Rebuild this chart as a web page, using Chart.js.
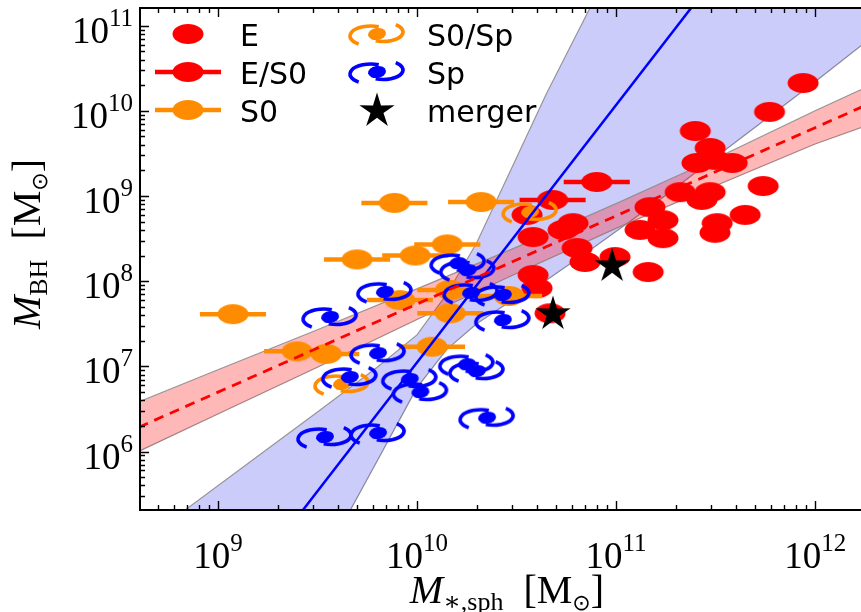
<!DOCTYPE html>
<html>
<head>
<meta charset="utf-8">
<script src="https://cdn.jsdelivr.net/npm/chart.js@4.4.1/dist/chart.umd.min.js"></script>
<style>
  html, body { margin: 0; padding: 0; background: #fff; }
  #wrap { width: 861px; height: 612px; }
</style>
</head>
<body>
<div id="wrap"><canvas id="bh-chart" width="861" height="612"></canvas></div>
<script>
// ---- data (M_*,sph and M_BH in solar masses) ----
const eMass = [8.7e11, 5.9e11, 2.5e11, 2.97e11, 2.55e11, 3.14e11, 3.83e11, 5.48e11, 2.1e11, 2.97e11,
               2.7e11, 1.48e11, 4.45e11, 3.22e11, 3.14e11, 1.72e11, 1.32e11, 1.72e11, 6.08e10, 5.42e10,
               3.83e10, 6.37e10, 6.98e10, 9.88e10, 1.45e11, 3.83e10, 4.01e10, 4.66e10, 3.57e10];
const eBH   = [2.12e10, 9.7e9, 5.8e9, 3.66e9, 2.44e9, 2.65e9, 2.44e9, 1.31e9, 1.11e9, 1.11e9,
               9.0e8, 7.4e8, 6.0e8, 4.8e8, 3.7e8, 5.2e8, 4.0e8, 3.2e8, 4.8e8, 4.0e8,
               3.3e8, 2.45e8, 1.68e8, 1.92e8, 1.28e8, 1.18e8, 8.3e7, 4.2e7, 6.0e8];

const es0Mass = [8.0e10, 4.8e10];
const es0BH   = [1.46e9, 9.0e8];

const s0Mass = [7.7e9, 2.1e10, 5.0e9, 9.8e9, 1.42e10, 1.19e9, 2.5e9, 3.5e9, 1.19e10, 8.2e9, 1.47e10, 1.47e10, 2.9e10];
const s0BH   = [8.3e8, 8.5e8, 1.8e8, 2.0e8, 2.7e8, 4.1e7, 1.5e7, 1.4e7, 1.7e7, 6.0e7, 7.9e7, 4.2e7, 6.7e7];

const s0spMass = [3.7e10, 4.2e9];
const s0spBH   = [6.5e8, 6.2e6];

const spMass = [3.66e9, 6.9e9, 1.61e10, 1.8e10, 1.87e10, 2.7e10, 2.7e10, 6.37e9, 4.6e9, 9.2e9,
                1.04e10, 1.78e10, 2.0e10, 2.25e10, 3.45e9, 6.37e9];
const spBH   = [3.8e7, 7.5e7, 1.63e8, 1.35e8, 7.3e7, 6.9e7, 3.5e7, 1.43e7, 7.5e6, 7.1e6,
                5.0e6, 1.06e7, 8.8e6, 2.5e6, 1.48e6, 1.65e6];

const mergerMass = [9.55e10, 4.82e10];
const mergerBH   = [1.55e8, 4.23e7];

// horizontal error bars (dex) on the E/S0 and S0 points
const es0ErrDex = [0.166, 0.166];
const s0ErrDex  = [0.166, 0.166, 0.166, 0.166, 0.166, 0.166, 0.166, 0.166, 0.166, 0.166, 0.166, 0.166, 0.166];

// fits (end points) and confidence bands, as log10 values
const redFitLogMass  = [8.602, 12.255];
const redFitLogBH    = [6.285, 10.066];
const blueFitLogMass = [9.176, 11.477];
const blueFitLogBH   = [4.555, 11.509];

const redBandLogMass  = [8.6, 9.0, 9.5, 10.0, 10.5, 11.0, 11.5, 12.0, 12.25];
const redBandLogUpper = [6.58, 6.96, 7.43, 7.91, 8.40, 8.91, 9.44, 10.0, 10.27];
const redBandLogLower = [6.0, 6.44, 6.99, 7.55, 8.09, 8.62, 9.12, 9.61, 9.82];

const blueBandLogMass  = [8.6, 8.834, 9.176, 9.5, 9.8, 10.0, 10.15, 10.3, 10.5, 10.65, 10.9, 11.2, 11.56, 12.0, 12.25];
const blueBandLogUpper = [4.915, 5.312, 5.905, 6.465, 6.99, 7.37, 7.85, 8.45, 9.45, 10.2, 11.35, 12.6, 14.0, 15.8, 16.9];
const blueBandLogLower = [0.715, 1.73, 3.205, 4.605, 5.89, 6.75, 7.20, 7.50, 7.81, 8.01, 8.415, 8.92, 9.56, 10.34, 10.80];

const xMin = 4.06e8, xMax = 1.70e12;
const yMin = 2.06e5, yMax = 1.61e11;

const RED = '#ff0000', ORANGE = '#ff8c00', BLUE = '#0000ff';

// ---- marker images ----
function makeCanvas(w, h) {
  const c = document.createElement('canvas');
  c.width = w; c.height = h;
  return c;
}
function ellipseIcon(color) {
  const c = makeCanvas(34, 24), g = c.getContext('2d');
  g.fillStyle = color;
  g.beginPath(); g.ellipse(17, 12, 15.5, 10, 0, 0, 2 * Math.PI); g.fill();
  return c;
}
function spiralIcon(color) {
  const c = makeCanvas(66, 40), g = c.getContext('2d');
  const cx = 33, cy = 20;
  g.strokeStyle = color; g.fillStyle = color; g.lineWidth = 3.6;
  g.beginPath(); g.ellipse(cx, cy, 9, 6, -0.15, 0, 2 * Math.PI); g.fill();
  // left arm leaves the top of the core, sweeps round the left and ends low
  g.beginPath(); g.ellipse(cx - 6, cy + 2, 21, 10, 0, 1.62 * Math.PI, 0.7 * Math.PI, true); g.stroke();
  // right arm leaves the bottom of the core, sweeps round the right and ends high
  g.beginPath(); g.ellipse(cx + 6, cy - 2, 20, 9.5, 0, 0.62 * Math.PI, -0.28 * Math.PI, true); g.stroke();
  return c;
}
function starIcon(color) {
  const c = makeCanvas(40, 40), g = c.getContext('2d');
  const R = 18.5, r = 6.8, cx = 20, cy = 21;
  g.fillStyle = color;
  g.beginPath();
  for (let k = 0; k < 10; k++) {
    const a = -Math.PI / 2 + k * Math.PI / 5, rad = k % 2 ? r : R;
    const px = cx + rad * Math.cos(a), py = cy + rad * Math.sin(a);
    k ? g.lineTo(px, py) : g.moveTo(px, py);
  }
  g.closePath(); g.fill();
  return c;
}
const eIcon = ellipseIcon(RED), s0Icon = ellipseIcon(ORANGE);
const s0spIcon = spiralIcon(ORANGE), spIcon = spiralIcon(BLUE), mergerIcon = starIcon('#000');

function pts(xs, ys) { return xs.map((v, i) => ({x: v, y: ys[i]})); }
function logPts(xs, ys) { return xs.map((v, i) => ({x: Math.pow(10, v), y: Math.pow(10, ys[i])})); }

const bandEdge = 'rgba(140,140,140,0.9)';
const datasets = [
  {label: 'redBandUp', data: logPts(redBandLogMass, redBandLogUpper), showLine: true, pointRadius: 0,
   borderColor: bandEdge, borderWidth: 1.2, backgroundColor: 'rgba(255,0,0,0.28)', fill: '+1', order: 20},
  {label: 'redBandLo', data: logPts(redBandLogMass, redBandLogLower), showLine: true, pointRadius: 0,
   borderColor: bandEdge, borderWidth: 1.2, fill: false, order: 20},
  {label: 'blueBandUp', data: logPts(blueBandLogMass, blueBandLogUpper), showLine: true, pointRadius: 0,
   borderColor: bandEdge, borderWidth: 1.2, backgroundColor: 'rgba(0,0,230,0.2)', fill: '+1', order: 21},
  {label: 'blueBandLo', data: logPts(blueBandLogMass, blueBandLogLower), showLine: true, pointRadius: 0,
   borderColor: bandEdge, borderWidth: 1.2, fill: false, order: 21},
  {label: 'E', data: pts(eMass, eBH), pointStyle: eIcon, pointRadius: 10, order: 8},
  {label: 'E/S0', data: pts(es0Mass, es0BH), pointStyle: eIcon, pointRadius: 10, order: 7,
   xErrDex: es0ErrDex, errColor: RED},
  {label: 'S0', data: pts(s0Mass, s0BH), pointStyle: s0Icon, pointRadius: 10, order: 6,
   xErrDex: s0ErrDex, errColor: ORANGE},
  {label: 'S0/Sp', data: pts(s0spMass, s0spBH), pointStyle: s0spIcon, pointRadius: 10, order: 5},
  {label: 'Sp', data: pts(spMass, spBH), pointStyle: spIcon, pointRadius: 10, order: 4},
  {label: 'merger', data: pts(mergerMass, mergerBH), pointStyle: mergerIcon, pointRadius: 10, order: 3},
  {label: 'redFit', data: logPts(redFitLogMass, redFitLogBH), showLine: true, pointRadius: 0,
   borderColor: RED, borderWidth: 2.8, borderDash: [10, 7], fill: false, order: 1},
  {label: 'blueFit', data: logPts(blueFitLogMass, blueFitLogBH), showLine: true, pointRadius: 0,
   borderColor: BLUE, borderWidth: 2.5, fill: false, order: 1}
];

// ---- error bars, drawn just under their own markers ----
const errorBars = {
  id: 'errorBars',
  beforeDatasetDraw(chart, args) {
    const ds = chart.data.datasets[args.index];
    if (!ds.xErrDex) return;
    const ctx = chart.ctx, xs = chart.scales.x, a = chart.chartArea;
    ctx.save();
    ctx.beginPath(); ctx.rect(a.left, a.top, a.right - a.left, a.bottom - a.top); ctx.clip();
    ctx.strokeStyle = ds.errColor; ctx.lineWidth = 4.5;
    args.meta.data.forEach((p, i) => {
      const f = Math.pow(10, ds.xErrDex[i]);
      ctx.beginPath();
      ctx.moveTo(xs.getPixelForValue(ds.data[i].x / f), p.y);
      ctx.lineTo(xs.getPixelForValue(ds.data[i].x * f), p.y);
      ctx.stroke();
    });
    ctx.restore();
  }
};

// ---- text helpers ----
const SERIF = '"Liberation Serif", "DejaVu Serif", serif';
function drawRuns(ctx, runs, x, y) {
  // runs: [{t, font, dy}] laid out left to right, centred on x, baseline y
  let w = 0;
  runs.forEach(r => { ctx.font = r.font; r.w = ctx.measureText(r.t).width; w += r.w; });
  let cx = x - w / 2;
  runs.forEach(r => { ctx.font = r.font; ctx.fillText(r.t, cx, y + (r.dy || 0)); cx += r.w; });
}
function powerRuns(e) {
  return [{t: '10', font: '37px ' + SERIF, dy: 0}, {t: String(e), font: '25px ' + SERIF, dy: -17}];
}

// ---- inward ticks, spines, tick labels and axis titles ----
const axisDecor = {
  id: 'axisDecor',
  afterDatasetsDraw(chart) {
    const {ctx, chartArea: a, scales: {x, y}} = chart;
    ctx.save();
    ctx.strokeStyle = '#000'; ctx.fillStyle = '#000';
    ctx.lineWidth = 1.4;
    ctx.beginPath();
    for (let e = Math.floor(Math.log10(x.min)); e <= Math.ceil(Math.log10(x.max)); e++) {
      for (let m = 1; m <= 9; m++) {
        const v = m * Math.pow(10, e);
        if (v < x.min || v > x.max) continue;
        const px = Math.round(x.getPixelForValue(v)) + 0.5, len = m === 1 ? 9 : 5;
        ctx.moveTo(px, a.bottom); ctx.lineTo(px, a.bottom - len);
        ctx.moveTo(px, a.top); ctx.lineTo(px, a.top + len);
      }
    }
    for (let e = Math.floor(Math.log10(y.min)); e <= Math.ceil(Math.log10(y.max)); e++) {
      for (let m = 1; m <= 9; m++) {
        const v = m * Math.pow(10, e);
        if (v < y.min || v > y.max) continue;
        const py = Math.round(y.getPixelForValue(v)) + 0.5, len = m === 1 ? 9 : 5;
        ctx.moveTo(a.left, py); ctx.lineTo(a.left + len, py);
      }
    }
    ctx.stroke();

    ctx.lineWidth = 2;
    ctx.beginPath();
    ctx.moveTo(a.right + 2, a.top); ctx.lineTo(a.left, a.top);
    ctx.lineTo(a.left, a.bottom); ctx.lineTo(a.right + 2, a.bottom);
    ctx.stroke();

    ctx.textAlign = 'left'; ctx.textBaseline = 'alphabetic';
    for (let e = 9; e <= 12; e++) {
      drawRuns(ctx, powerRuns(e), x.getPixelForValue(Math.pow(10, e)), 568);
    }
    for (let e = 6; e <= 11; e++) {
      const runs = powerRuns(e);
      let w = 0;
      runs.forEach(r => { ctx.font = r.font; w += ctx.measureText(r.t).width; });
      drawRuns(ctx, runs, 133 - w / 2, y.getPixelForValue(Math.pow(10, e)) + 17);
    }

    const titleX = [
      {t: 'M', font: 'italic 40px ' + SERIF, dy: 0},
      {t: '\u2217,sph', font: '26px ' + SERIF, dy: 7},
      {t: '  [M', font: '40px ' + SERIF, dy: 0},
      {t: '\u2299', font: '22px "DejaVu Sans"', dy: 7},
      {t: ']', font: '40px ' + SERIF, dy: 0}
    ];
    drawRuns(ctx, titleX, 507, 603);

    const titleY = [
      {t: 'M', font: 'italic 40px ' + SERIF, dy: 0},
      {t: 'BH', font: '26px ' + SERIF, dy: 7},
      {t: '  [M', font: '40px ' + SERIF, dy: 0},
      {t: '\u2299', font: '22px "DejaVu Sans"', dy: 7},
      {t: ']', font: '40px ' + SERIF, dy: 0}
    ];
    ctx.translate(40, 244);
    ctx.rotate(-Math.PI / 2);
    drawRuns(ctx, titleY, 0, 0);
    ctx.restore();
  }
};

// ---- legend in two columns, top left of the axes ----
const legendItems = [
  {label: 'E', icon: eIcon, bar: null, col: 0, row: 0},
  {label: 'E/S0', icon: eIcon, bar: RED, col: 0, row: 1},
  {label: 'S0', icon: s0Icon, bar: ORANGE, col: 0, row: 2},
  {label: 'S0/Sp', icon: s0spIcon, bar: null, col: 1, row: 0},
  {label: 'Sp', icon: spIcon, bar: null, col: 1, row: 1},
  {label: 'merger', icon: mergerIcon, bar: null, col: 1, row: 2}
];
const twoColLegend = {
  id: 'twoColLegend',
  afterDraw(chart) {
    const ctx = chart.ctx;
    const iconX = [188, 377], textX = [240, 427], rowY = [34, 72, 110];
    ctx.save();
    legendItems.forEach(it => {
      const cx = iconX[it.col], cy = rowY[it.row];
      if (it.bar) {
        ctx.strokeStyle = it.bar; ctx.lineWidth = 4.5;
        ctx.beginPath(); ctx.moveTo(cx - 33, cy); ctx.lineTo(cx + 33, cy); ctx.stroke();
      }
      ctx.drawImage(it.icon, cx - it.icon.width / 2, cy - it.icon.height / 2);
      ctx.fillStyle = '#000';
      ctx.font = '30px "DejaVu Sans"';
      ctx.textAlign = 'left'; ctx.textBaseline = 'alphabetic';
      ctx.fillText(it.label, textX[it.col], cy + 12);
    });
    ctx.restore();
  }
};

new Chart(document.getElementById('bh-chart').getContext('2d'), {
  type: 'scatter',
  data: {datasets: datasets},
  options: {
    responsive: false,
    animation: false,
    devicePixelRatio: 1,
    layout: {autoPadding: false, padding: {left: 140, right: 0, top: 8, bottom: 102}},
    elements: {line: {tension: 0}, point: {borderWidth: 0}},
    plugins: {legend: {display: false}, tooltip: {enabled: false}},
    scales: {
      x: {type: 'logarithmic', min: xMin, max: xMax, display: false},
      y: {type: 'logarithmic', min: yMin, max: yMax, display: false}
    }
  },
  plugins: [errorBars, axisDecor, twoColLegend]
});
</script>
</body>
</html>
